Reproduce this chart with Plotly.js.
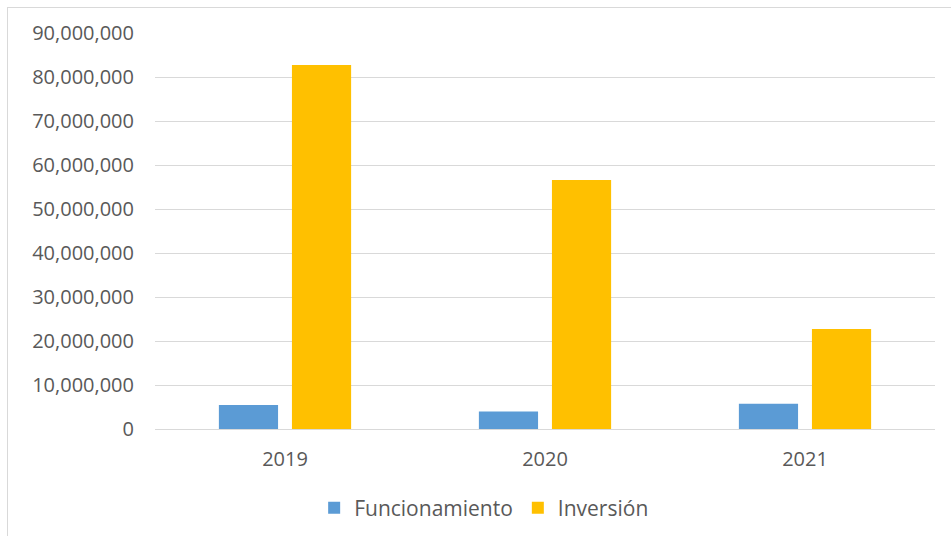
<!DOCTYPE html>
<html>
<head>
<meta charset="utf-8">
<script src="https://cdn.plot.ly/plotly-3.0.1.min.js"></script>
<style>
  html, body { margin: 0; padding: 0; background: #fff; }
  #wrap { position: relative; width: 951px; height: 536px; overflow: hidden; }
  #chart { width: 951px; height: 536px; }
  #frame { position: absolute; left: 7px; top: 7px; width: 960px; height: 560px;
           border: 1px solid #d9d9d9; pointer-events: none; }
</style>
</head>
<body>
<div id="wrap">
  <div id="chart"></div>
  <div id="frame"></div>
</div>
<script>
const categories = ["2019", "2020", "2021"];
const funcionamiento = [5450000, 4000000, 5750000];
const inversion = [82700000, 56600000, 22700000];
const seriesNames = ["Funcionamiento", "Inversión"];

const textColor = "#595959";
const font = { family: "Open Sans, Liberation Sans, sans-serif", size: 20, color: textColor };

const traces = [
  { type: "bar", name: seriesNames[0], x: categories, y: funcionamiento,
    marker: { color: "#5b9bd5" }, hoverinfo: "none" },
  { type: "bar", name: seriesNames[1], x: categories, y: inversion,
    marker: { color: "#ffc000" }, hoverinfo: "none" }
];

const layout = {
  width: 951, height: 536,
  margin: { l: 155, r: 16, t: 33, b: 107, autoexpand: false },
  paper_bgcolor: "rgba(0,0,0,0)", plot_bgcolor: "#fff",
  font: font,
  separators: ".,",
  barmode: "group",
  bargap: 0.438,
  bargroupgap: 0.19,
  showlegend: true,
  legend: { orientation: "h", x: 0.422, xanchor: "center", y: -0.2, yanchor: "middle",
            font: Object.assign({}, font, { size: 21 }), itemclick: false, itemdoubleclick: false },
  xaxis: { type: "category", showgrid: false, showline: false, zeroline: false, automargin: false,
           ticks: "", ticklabelstandoff: 16, tickfont: font },
  yaxis: { range: [0, 90000000], dtick: 10000000, tick0: 0, tickformat: ",d", automargin: false,
           showgrid: true, gridcolor: "#d9d9d9", gridwidth: 1,
           zeroline: true, zerolinecolor: "#d9d9d9", zerolinewidth: 1,
           showline: false, ticks: "", ticklabelstandoff: 20, tickfont: font }
};

Plotly.newPlot("chart", traces, layout, { staticPlot: true, displayModeBar: false });
</script>
</body>
</html>
